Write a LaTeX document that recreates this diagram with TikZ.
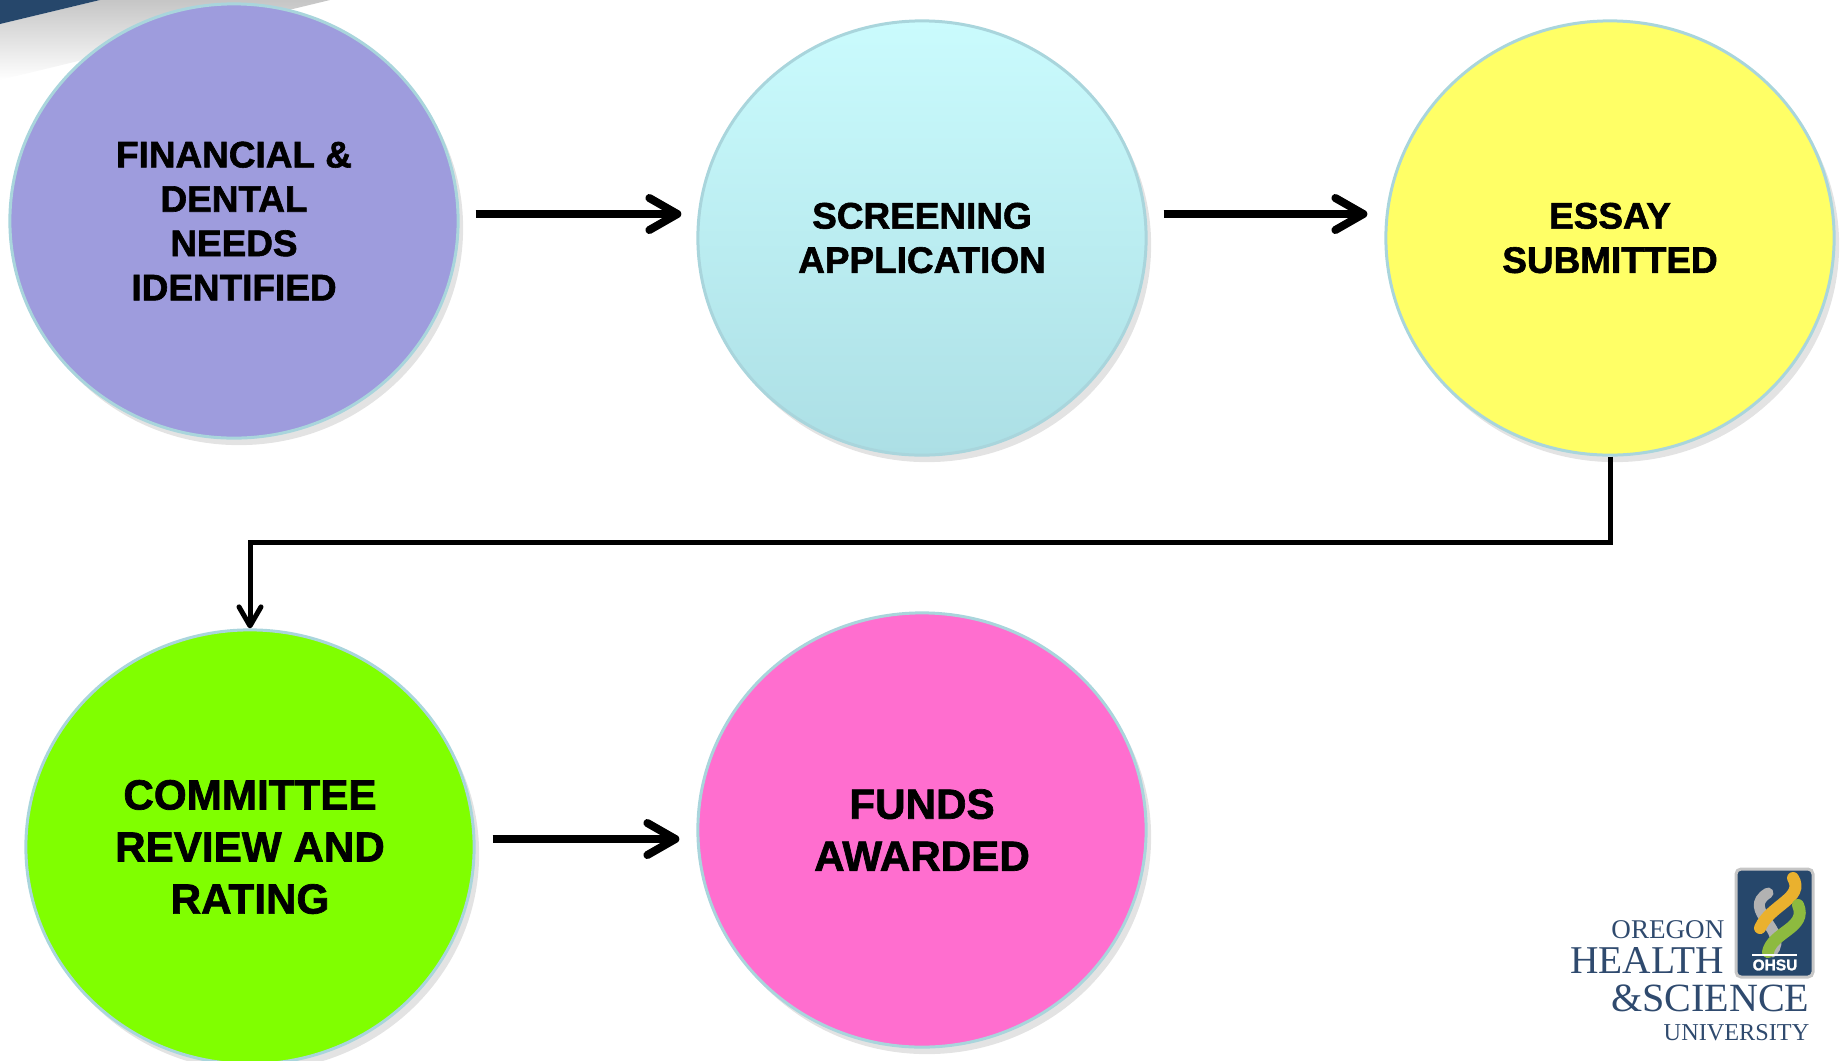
\documentclass[tikz,border=0pt]{standalone}
\usepackage{fontspec}
\usepackage{xcolor}
\setmainfont{Liberation Sans}
\newfontfamily\stagefont{Liberation Sans Bold}[FakeBold=1.6]
\newfontfamily\logofont{Liberation Serif}
\usetikzlibrary{shapes.geometric,arrows.meta,shadows}

\definecolor{slidenavy}{HTML}{26476B}
\definecolor{rimblue}{HTML}{A9D5DC}
\definecolor{lavender}{HTML}{9E9CDD}
\definecolor{aquatop}{HTML}{CAFBFD}
\definecolor{aquabot}{HTML}{ACDFE5}
\definecolor{lemon}{HTML}{FFFF66}
\definecolor{lime}{HTML}{80FF00}
\definecolor{pinky}{HTML}{FF6ECF}
\definecolor{logoblue}{HTML}{2F4A6E}
\definecolor{ribbongold}{HTML}{EAB12E}
\definecolor{ribbongreen}{HTML}{8DBA3F}

\begin{document}
\begin{tikzpicture}[x=0.01cm, y=-0.01cm,
  stage/.style={ellipse, draw=rimblue, line width=0.3mm, minimum width=4.48cm, minimum height=4.34cm, align=center, inner sep=0pt,
    drop shadow={opacity=0.22, shadow xshift=0.05cm, shadow yshift=-0.07cm}},
  small/.style={font=\stagefont\fontsize{10.5}{12.6}\selectfont},
  large/.style={font=\stagefont\fontsize{12}{14.8}\selectfont},
  flow/.style={line width=0.8mm, -{Straight Barb[length=2.8mm, width=3.2mm, round]}},
  elbow/.style={line width=0.5mm, -{Straight Barb[length=1.9mm, width=2.2mm, round]}}]
  \useasboundingbox (0,0) rectangle (1845,1060);

  % slide corner
  \shade[top color=gray!45, bottom color=white] (0,24) -- (100,0) -- (330,0) -- (0,80) -- cycle;
  \fill[slidenavy] (0,0) -- (100,0) -- (0,24) -- cycle;

  % stages
  \node[stage, small, fill=lavender] (fin) at (234,221) {FINANCIAL \&\\DENTAL\\NEEDS\\IDENTIFIED};
  \node[stage, small, top color=aquatop, bottom color=aquabot] (scr) at (922,238) {SCREENING\\APPLICATION};
  \node[stage, small, fill=lemon] (ess) at (1610,238) {ESSAY\\SUBMITTED};
  \node[stage, large, fill=lime] (com) at (250,847) {COMMITTEE\\REVIEW AND\\RATING};
  \node[stage, large, fill=pinky] (fun) at (922,830) {FUNDS\\AWARDED};

  % connectors
  \draw[flow] ([shift={(16,-7)}]fin.east) -- ([shift={(-15,-24)}]scr.west);
  \draw[flow] ([shift={(16,-24)}]scr.east) -- ([shift={(-17,-24)}]ess.west);
  \draw[elbow] (ess.south) |- (250,542) -- (com.north);
  \draw[flow] ([shift={(17,-8)}]com.east) -- ([shift={(-17,9)}]fun.west);

  % logo
  \filldraw[fill=slidenavy, draw=gray!45, line width=0.3mm, rounded corners=0.05cm] (1736,869) rectangle (1813,977);
  \draw[gray!60, line width=1.1mm, line cap=round] (1768,893) .. controls (1740,910) and (1790,930) .. (1772,952);
  \draw[ribbongold, line width=1.2mm, line cap=round] (1793,878) .. controls (1805,898) and (1770,905) .. (1760,928);
  \draw[ribbongreen, line width=1.2mm, line cap=round] (1798,905) .. controls (1808,928) and (1772,932) .. (1768,952);
  \draw[white, line width=0.25mm] (1752,955) -- (1797,955);
  \node[text=white, font=\stagefont\fontsize{4.4}{5}\selectfont, inner sep=0pt] (ohsu) at (1775,965) {OHSU};
  \node[anchor=base east, inner sep=0pt, text=logoblue, font=\logofont\fontsize{7.7}{8}\selectfont] (oregon) at (1725,938) {OREGON};
  \node[anchor=base east, inner sep=0pt, text=logoblue, font=\logofont\fontsize{11.2}{12}\selectfont] (health) at (1725,973) {HEALTH};
  \node[anchor=base east, inner sep=0pt, text=logoblue, font=\logofont\fontsize{11.4}{12}\selectfont] (science) at (1810,1011) {\&SCIENCE};
  \node[anchor=base east, inner sep=0pt, text=logoblue, font=\logofont\fontsize{6.9}{8}\selectfont] (univ) at (1810,1040) {UNIVERSITY};
\end{tikzpicture}
\end{document}
